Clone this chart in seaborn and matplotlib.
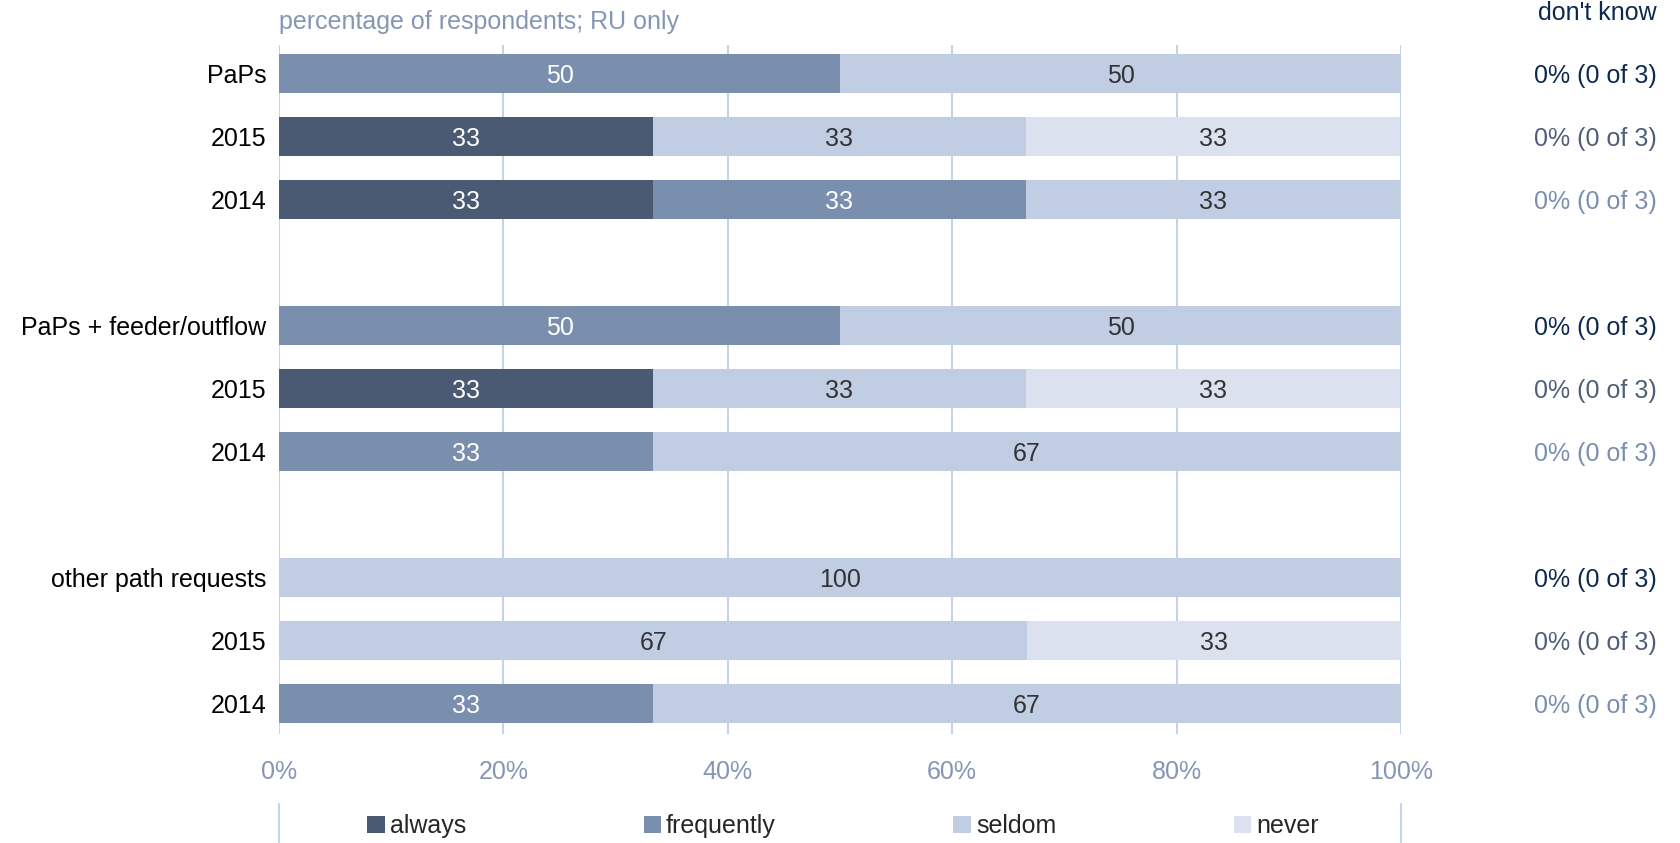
import matplotlib
matplotlib.use("Agg")
import matplotlib.pyplot as plt
import numpy as np
import pandas as pd
import seaborn as sns

# data
rows = ["PaPs", "2015", "2014",
        "PaPs + feeder/outflow", "2015", "2014",
        "other path requests", "2015", "2014"]
posiciones = [0, 1, 2, 4, 5, 6, 8, 9, 10]
always = [0, 33.3, 33.3, 0, 33.3, 0, 0, 0, 0]
frequently = [50, 0, 33.3, 50, 0, 33.3, 0, 0, 33.3]
seldom = [50, 33.3, 33.3, 50, 33.3, 66.7, 100, 66.7, 66.7]
never = [0, 33.3, 0, 0, 33.3, 0, 0, 33.3, 0]
dont_know = ["0% (0 of 3)"] * 9
categorias = ["always", "frequently", "seldom", "never"]

colores = {"always": "#4a5a73", "frequently": "#7a8fae",
           "seldom": "#c0cde3", "never": "#dbe1ee"}
colorTexto = {"always": "white", "frequently": "white",
              "seldom": "#333333", "never": "#333333"}
colorDK = ["#0d2a4e", "#4f5f78", "#7a8fae"] * 3
gridColor = "#c6d2e6"
tickColor = "#8596b5"
fs = 18

sns.set_theme(style="white")
plt.rcParams['font.family'] = ['Liberation Sans', 'DejaVu Sans']

df = pd.DataFrame({"pos": posiciones, "always": always, "frequently": frequently,
                   "seldom": seldom, "never": never})

fig = plt.figure(figsize=(16.81, 8.43), dpi=100)
ax = fig.add_axes([0.166, 0.1293, 0.8334 - 0.166, 0.9466 - 0.1293])

# stacked bars: draw cumulative totals from the largest down
acumulado = df[categorias].cumsum(axis=1)
for cat in reversed(categorias):
    d = pd.DataFrame({"pos": df["pos"], "val": acumulado[cat]})
    sns.barplot(data=d, x="val", y="pos", orient="h", native_scale=True,
                color=colores[cat], width=0.62, saturation=1, linewidth=0,
                label=cat, ax=ax, errorbar=None)

# value labels
for i, p in enumerate(posiciones):
    izq = 0
    for cat in categorias:
        v = df[cat][i]
        if v > 0:
            ax.text(izq + v / 2, p, str(int(round(v))), ha="center", va="center_baseline",
                    color=colorTexto[cat], fontsize=fs)
        izq += v

ax.set_xlim(0, 100)
ax.set_ylim(10.49, -0.46)
ax.set_xticks([0, 20, 40, 60, 80, 100])
ax.set_xticklabels([f"{t}%" for t in [0, 20, 40, 60, 80, 100]])
ax.set_yticks(posiciones)
ax.set_yticklabels(rows)
ax.tick_params(axis="x", colors=tickColor, labelsize=fs, pad=19, length=0)
ax.tick_params(axis="y", colors="black", labelsize=fs, pad=9, length=0)
ax.set_xlabel("")
ax.set_ylabel("")
for s in ax.spines.values():
    s.set_visible(False)
ax.xaxis.grid(True, color=gridColor, linewidth=1.5)
ax.set_axisbelow(True)
ax.yaxis.grid(False)

# short lines at the legend row
for x in [0, 100]:
    ax.axvline(x, ymin=-0.157, ymax=-0.102, color=gridColor, linewidth=1.5, clip_on=False)

# don't know column
trans = matplotlib.transforms.blended_transform_factory(fig.transFigure, ax.transData)
for i, p in enumerate(posiciones):
    ax.text(0.9857, p, dont_know[i], transform=trans, ha="right", va="center_baseline",
            color=colorDK[i], fontsize=fs)
fig.text(0.9857, 1 - 13 / 843, "don't know", ha="right", va="center",
         color="#0d2a4e", fontsize=fs)
fig.text(0.166, 1 - 22 / 843, "percentage of respondents; RU only", ha="left",
         va="center", color=tickColor, fontsize=fs)

# legend
handles, labels = ax.get_legend_handles_labels()
orden = [labels.index(c) for c in categorias]
ax.legend([handles[k] for k in orden], categorias, loc="center",
          bbox_to_anchor=(0.5015, 1 - 826 / 843), bbox_transform=fig.transFigure,
          ncol=4, frameon=False, fontsize=fs, handlelength=0.7, handleheight=0.7,
          handletextpad=0.2, columnspacing=7.1)

fig.savefig("out.png", dpi=100)
